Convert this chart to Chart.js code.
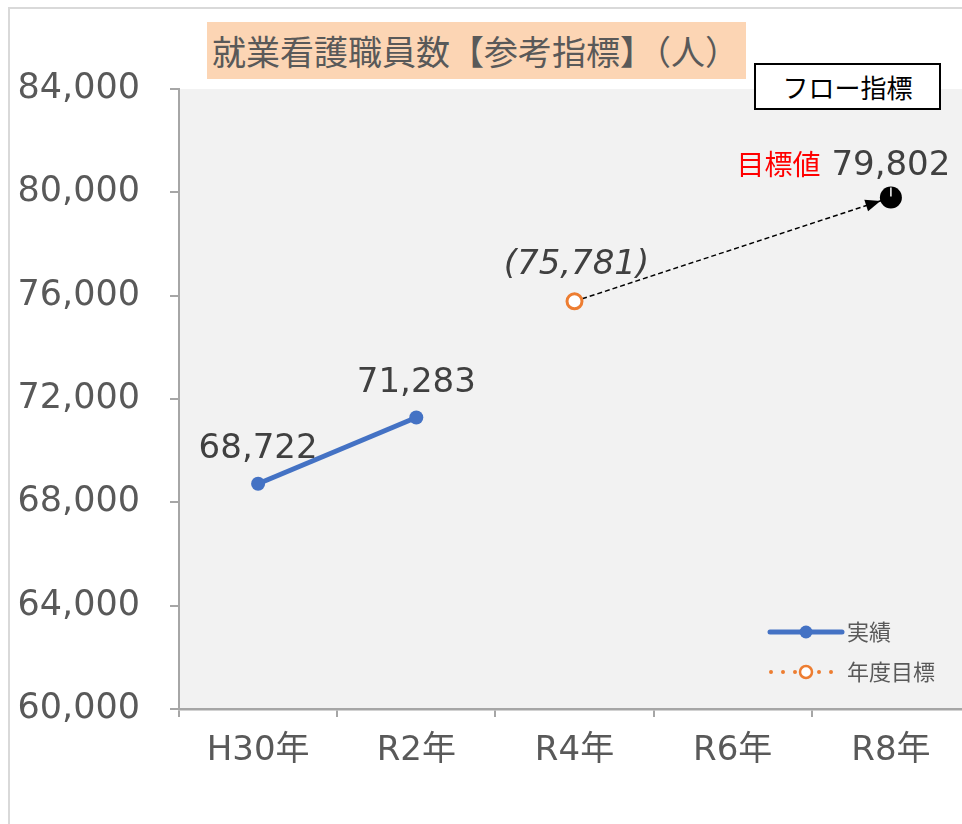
<!DOCTYPE html>
<html lang="ja">
<head>
<meta charset="utf-8">
<script src="https://cdn.jsdelivr.net/npm/chart.js@4.4.1/dist/chart.umd.min.js"></script>
<style>
  html, body { margin: 0; padding: 0; background: #fff; overflow: hidden; width: 962px; height: 824px; }
  #frame { position: absolute; left: 8px; top: 7px; width: 1000px; height: 900px; border: 2px solid #d9d9d9; box-sizing: border-box; }
  #wrap { position: absolute; left: 0; top: 0; width: 970px; height: 824px; }
  #chart { width: 970px; height: 824px; }
  .title { position: absolute; left: 207px; top: 22px; width: 539px; height: 57px; background: #fcd5b4; box-sizing: border-box; padding-left: 5px;
           color: #595959; font-family: 'Noto Sans CJK JP', sans-serif; font-size: 34px; line-height: 57px; text-align: left; white-space: nowrap; overflow: hidden; }
  .flow { position: absolute; left: 754px; top: 63px; width: 187px; height: 47px; box-sizing: border-box; border: 2px solid #000;
          background: #fff; color: #000; font-family: 'Noto Sans CJK JP', sans-serif; font-size: 26px; line-height: 43px; text-align: center; }
</style>
</head>
<body>
<div id="frame"></div>
<div id="wrap"><canvas id="chart" width="970" height="824"></canvas></div>
<div class="title">就業看護職員数【参考指標】（人）</div>
<div class="flow">フロー指標</div>
<script>
// data
var categories = ['H30年', 'R2年', 'R4年', 'R6年', 'R8年'];
var actual = [68722, 71283, null, null, null];
var yearTarget = [null, null, 75781, null, null];
var goal = [null, null, null, null, 79802];
var yMin = 60000, yMax = 84000, yStep = 4000;

var numFont = "'DejaVu Sans', 'Noto Sans CJK JP', sans-serif";
var jpFont = "'Noto Sans CJK JP', sans-serif";

// dashed arrow from the yearly target to the final goal
var arrowLine = categories.map(function (c, i) {
    return yearTarget[i] != null ? yearTarget[i] : goal[i];
});

function fmt(v) { return v.toLocaleString('en-US'); }

var deco = {
    id: 'deco',
    beforeDraw: function (chart) {
        var a = chart.chartArea, ctx = chart.ctx;
        ctx.save();
        ctx.fillStyle = '#f2f2f2';
        ctx.fillRect(a.left, a.top, a.right - a.left, a.bottom - a.top);
        ctx.restore();
    },
    afterDatasetsDraw: function (chart) {
        var ctx = chart.ctx, a = chart.chartArea;
        var pA = chart.getDatasetMeta(1).data[2];
        var pB = chart.getDatasetMeta(2).data[4];

        // arrow head
        var dx = pB.x - pA.x, dy = pB.y - pA.y, len = Math.sqrt(dx * dx + dy * dy);
        var ux = dx / len, uy = dy / len;
        var tx = pB.x - ux * 11, ty = pB.y - uy * 11;
        ctx.save();
        ctx.fillStyle = '#000';
        ctx.beginPath();
        ctx.moveTo(tx, ty);
        ctx.lineTo(tx - ux * 15 - uy * 6, ty - uy * 15 + ux * 6);
        ctx.lineTo(tx - ux * 15 + uy * 6, ty - uy * 15 - ux * 6);
        ctx.closePath();
        ctx.fill();
        // small white mark on the goal point
        ctx.strokeStyle = '#fff';
        ctx.lineWidth = 1.5;
        ctx.beginPath();
        ctx.moveTo(pB.x, pB.y - 10);
        ctx.lineTo(pB.x, pB.y - 1);
        ctx.stroke();

        // data labels
        ctx.textAlign = 'center';
        ctx.textBaseline = 'alphabetic';
        ctx.fillStyle = '#404040';
        ctx.font = '34px ' + numFont;
        chart.getDatasetMeta(0).data.forEach(function (pt, i) {
            if (actual[i] == null) return;
            ctx.fillText(fmt(actual[i]), pt.x, pt.y - 26);
        });
        ctx.font = 'italic 34px ' + numFont;
        ctx.fillText('(' + fmt(yearTarget[2]) + ')', pA.x + 2, pA.y - 27);
        ctx.font = '34px ' + numFont;
        ctx.fillText(fmt(goal[4]), pB.x, pB.y - 22);
        var w = ctx.measureText(fmt(goal[4])).width;
        ctx.textAlign = 'right';
        ctx.fillStyle = '#ff0000';
        ctx.font = '28px ' + jpFont;
        ctx.fillText('目標値', pB.x - w / 2 - 11, pB.y - 22);

        // legend
        var lx = a.right - 200, rx = a.right - 128, mx = a.right - 164;
        var y1 = a.bottom - 77, y2 = a.bottom - 37;
        ctx.lineCap = 'round';
        ctx.strokeStyle = '#4472c4';
        ctx.lineWidth = 5;
        ctx.beginPath(); ctx.moveTo(lx, y1); ctx.lineTo(rx, y1); ctx.stroke();
        ctx.fillStyle = '#4472c4';
        ctx.beginPath(); ctx.arc(mx, y1, 6.5, 0, Math.PI * 2); ctx.fill();
        ctx.strokeStyle = '#ed7d31';
        ctx.lineWidth = 4;
        ctx.setLineDash([0, 12]);
        ctx.beginPath(); ctx.moveTo(lx + 1, y2); ctx.lineTo(rx - 9, y2); ctx.stroke();
        ctx.setLineDash([]);
        ctx.lineWidth = 2.5;
        ctx.fillStyle = '#fff';
        ctx.beginPath(); ctx.arc(mx, y2, 6, 0, Math.PI * 2); ctx.fill(); ctx.stroke();
        ctx.fillStyle = '#595959';
        ctx.font = '22px ' + jpFont;
        ctx.textAlign = 'left';
        ctx.textBaseline = 'middle';
        ctx.fillText(chart.data.datasets[0].label, rx + 5, y1);
        ctx.fillText(chart.data.datasets[1].label, rx + 5, y2);
        ctx.restore();
    }
};

var ctx = document.getElementById('chart').getContext('2d');
var chart = new Chart(ctx, {
    type: 'line',
    data: {
        labels: categories,
        datasets: [{
            label: '実績',
            data: actual,
            borderColor: '#4472c4',
            backgroundColor: '#4472c4',
            borderWidth: 5,
            pointRadius: 7,
            pointBorderWidth: 0,
            pointBackgroundColor: '#4472c4'
        }, {
            label: '年度目標',
            data: yearTarget,
            borderColor: '#ed7d31',
            borderDash: [2, 4],
            pointRadius: 7.5,
            pointBorderWidth: 3,
            pointBorderColor: '#ed7d31',
            pointBackgroundColor: '#ffffff'
        }, {
            label: '目標値',
            data: goal,
            pointRadius: 11,
            pointBorderWidth: 0,
            pointBackgroundColor: '#000000',
            borderColor: '#000000'
        }, {
            label: 'arrow',
            data: arrowLine,
            spanGaps: true,
            borderColor: '#000000',
            borderWidth: 1.5,
            borderDash: [5, 3],
            pointRadius: 0
        }]
    },
    options: {
        responsive: false,
        animation: false,
        events: [],
        layout: { autoPadding: false, padding: { top: 89, left: 0, right: 0, bottom: 0 } },
        plugins: {
            legend: { display: false },
            tooltip: { enabled: false }
        },
        scales: {
            x: {
                offset: true,
                grid: { offset: true, drawOnChartArea: false, drawTicks: true, tickLength: 8, color: '#a6a6a6', lineWidth: 2 },
                border: { color: '#a6a6a6', width: 2.5 },
                ticks: { color: '#595959', font: { family: numFont, size: 34 }, padding: 14, maxRotation: 0, autoSkip: false },
                afterFit: function (s) {
                    s.height = 824 - 709;
                    s.paddingLeft = 0;
                    s.paddingRight = 0;
                }
            },
            y: {
                min: yMin,
                max: yMax,
                grid: { drawOnChartArea: false, drawTicks: true, tickLength: 9, color: '#a6a6a6', lineWidth: 2 },
                border: { color: '#a6a6a6', width: 2 },
                ticks: {
                    stepSize: yStep,
                    color: '#595959',
                    font: { family: numFont, size: 35 },
                    padding: 30,
                    callback: function (v) { return fmt(v); }
                },
                afterFit: function (s) {
                    s.width = 179;
                    s.paddingTop = 0;
                    s.paddingBottom = 0;
                }
            }
        }
    },
    plugins: [deco]
});
</script>
</body>
</html>
